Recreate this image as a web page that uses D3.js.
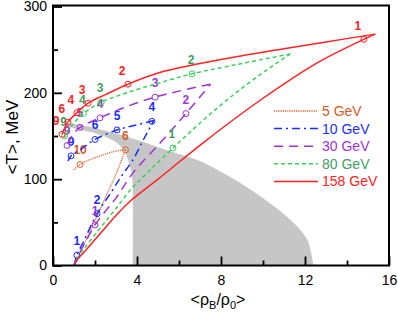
<!DOCTYPE html>
<html>
<head>
<meta charset="utf-8">
<script src="https://cdn.jsdelivr.net/npm/d3@7"></script>
<style>
  body { margin: 0; background: #fff; }
  text { font-family: "Liberation Sans", Arial, sans-serif; }
</style>
</head>
<body>
<script>
// trajectories <rho_B/rho_0>, <T> (MeV) ; rise = compression, fall = expansion
const rise5 = [[1.0,0],[1.5,26],[2.0,52],[2.5,79],[3.0,106],[3.45,134]];
const fall5 = [[3.45,134],[2.9,132],[2.38,128],[1.8,123],[1.29,117],[0.95,110]];
const marks5 = [[3.45,134,"6"],[1.29,117,"10"]];

const rise10 = [[1.0,0],[1.14,12],[1.5,30],[2.1,60],[2.8,86],[3.3,105],[3.8,122],[4.29,145],[4.8,168]];
const fall10 = [[4.8,168],[4.0,163],[3.05,157],[2.0,146],[1.4,136],[0.86,127],[0.72,121]];
const marks10 = [[1.14,12,"1"],[2.1,60,"2"],[4.71,167,"4"],[3.05,157,"5"],[2.0,146,"6"],[0.86,127,"9"]];

const rise30 = [[1.0,0],[1.2,12],[1.5,25],[2.0,47],[2.5,63],[3.0,78],[3.8,107],[5.1,142],[6.33,176],[7.5,210]];
const fall30 = [[7.5,210],[6.0,202],[4.86,195],[3.5,184],[2.24,171],[1.29,160],[0.9,150],[0.67,139]];
const marks30 = [[2.0,47,"1"],[6.33,176,"2"],[4.86,195,"3"],[2.24,171,"4"],[1.29,160,"5"],[0.67,139,"9"]];

const rise80 = [[1.0,0],[1.2,10],[1.5,20],[2.0,36],[2.5,51],[3.0,66],[3.7,88],[4.6,110],[5.71,136],[7.0,165],[8.3,192],[9.8,220],[11.3,245]];
const fall80 = [[11.3,245],[9.0,234],[6.62,222],[5.0,211],[3.5,200],[2.29,189],[1.45,176],[1.0,165],[0.7,156],[0.55,148]];
const marks80 = [[5.71,136,"1"],[6.62,222,"2"],[2.29,189,"3"],[1.45,176,"4"],[0.55,150,"9"]];

const rise158 = [[1.0,0],[1.2,8],[1.5,16],[2.0,30],[2.5,44],[3.0,58],[3.7,75],[5.0,100],[7.3,145],[9.9,192],[12.6,235],[14.8,262],[15.35,268]];
const fall158 = [[15.35,268],[13.0,259],[11.0,251],[9.0,243],[7.0,234],[5.0,223],[3.57,210],[2.5,198],[1.67,188],[1.14,177],[0.71,166],[0.43,152]];
const marks158 = [[14.8,262,"1"],[3.57,210,"2"],[1.67,188,"3"],[1.14,177,"4"],[0.71,166,"6"],[0.43,152,"9"]];

// shaded region boundary, traced counter-clockwise
const shadeLeft = [[3.8,0],[3.8,85],[3.78,100],[3.7,112],[3.52,126],[3.35,134],[3.05,142],[2.6,148],[1.9,154],[1.0,159],[0.6,164]];
const shadeTop = [[0.6,164],[1.5,162],[2.5,156],[3.5,149],[4.3,143],[5.5,133],[6.9,122],[8.4,103],[10.0,78],[11.3,53],[12.1,30],[12.4,0]];

const xMajor = [0, 4, 8, 12, 16], xMinor = [2, 6, 10, 14];
const yMajor = [0, 100, 200, 300], yMinor = [50, 150, 250];

const series = [
  {name: "5 GeV",   rise: rise5,   fall: fall5,   marks: marks5,   color: "#e0602a", text: "#d85a28", dash: "1.2,1",   w: 1.3, lab: [0,-10]},
  {name: "10 GeV",  rise: rise10,  fall: fall10,  marks: marks10,  color: "#1a2cff", text: "#1a2cff", dash: "8,4,2,4", w: 1.5, lab: [0,-10]},
  {name: "30 GeV",  rise: rise30,  fall: fall30,  marks: marks30,  color: "#a033d6", text: "#a033d6", dash: "9,6",     w: 1.5, lab: [0,-10]},
  {name: "80 GeV",  rise: rise80,  fall: fall80,  marks: marks80,  color: "#3ccf5a", text: "#3fa060", dash: "4,3",     w: 1.5, lab: [-1,-10]},
  {name: "158 GeV", rise: rise158, fall: fall158, marks: marks158, color: "#ff2222", text: "#ff2222", dash: null,      w: 1.5, lab: [-6,-9]}
];

const W = 398, H = 312;
const x = d3.scaleLinear().domain([0, 16]).range([53, 389]);
const y = d3.scaleLinear().domain([0, 300]).range([265.5, 6.5]);

const svg = d3.select("body").append("svg")
    .attr("width", W)
    .attr("height", H);

const line = d3.line()
    .x(d => x(d[0]))
    .y(d => y(d[1]))
    .curve(d3.curveCatmullRom.alpha(0.5));

// shaded region
svg.append("path")
    .attr("d", line(shadeLeft.concat(shadeTop.slice(1))) + "Z")
    .style("fill", "#c6c6c6")
    .style("stroke", "none");

// trajectories
series.forEach(s => {
    [s.rise, s.fall].forEach(branch => {
        svg.append("path")
            .attr("d", line(branch))
            .style("fill", "none")
            .style("stroke", s.color)
            .style("stroke-width", s.w)
            .style("stroke-dasharray", s.dash);
    });
    svg.selectAll(null)
        .data(s.marks)
        .enter().append("circle")
        .attr("cx", d => x(d[0]))
        .attr("cy", d => y(d[1]))
        .attr("r", 3)
        .style("fill", "none")
        .style("stroke", s.color)
        .style("stroke-width", 1);
    svg.selectAll(null)
        .data(s.marks)
        .enter().append("text")
        .attr("x", d => x(d[0]) + s.lab[0])
        .attr("y", d => y(d[1]) + s.lab[1])
        .attr("text-anchor", "middle")
        .style("font-size", "12px")
        .style("font-weight", "bold")
        .style("fill", s.text)
        .text(d => d[2]);
});

// frame
svg.append("rect")
    .attr("x", x(0)).attr("y", y(300) - 1)
    .attr("width", x(16) - x(0)).attr("height", y(0) - y(300) + 1)
    .style("fill", "none")
    .style("stroke", "#000")
    .style("stroke-width", 2);

// axes, ticks pointing inward
const gx = svg.append("g").attr("transform", "translate(0," + y(0) + ")");
gx.call(d3.axisBottom(x).tickValues(xMajor).tickSize(-9).tickPadding(10).tickFormat(d3.format("d")));
gx.append("g").call(d3.axisBottom(x).tickValues(xMinor).tickSize(-5).tickFormat(""));

const gy = svg.append("g").attr("transform", "translate(" + x(0) + ",0)");
gy.call(d3.axisLeft(y).tickValues(yMajor).tickSize(-9).tickPadding(6).tickFormat(d3.format("d")));
gy.append("g").call(d3.axisLeft(y).tickValues(yMinor).tickSize(-5).tickFormat(""));

svg.selectAll(".domain").remove();
svg.selectAll(".tick line").style("stroke", "#000").style("stroke-width", 1.8);
svg.selectAll(".tick text")
    .style("font-family", "Liberation Sans, Arial, sans-serif")
    .style("font-size", "14px")
    .style("fill", "#000");

// axis titles
svg.append("text")
    .attr("transform", "translate(18,137) rotate(-90)")
    .attr("text-anchor", "middle")
    .style("font-size", "17px")
    .text("<T>, MeV");

const xt = svg.append("text")
    .attr("x", 218).attr("y", 305)
    .attr("text-anchor", "middle")
    .style("font-size", "16px");
xt.append("tspan").text("<ρ");
xt.append("tspan").attr("dy", 4).style("font-size", "11px").text("B");
xt.append("tspan").attr("dy", -4).text("/ρ");
xt.append("tspan").attr("dy", 4).style("font-size", "11px").text("0");
xt.append("tspan").attr("dy", -4).text(">");

// legend
const leg = svg.selectAll(".legend")
    .data(series)
    .enter().append("g")
    .attr("class", "legend")
    .attr("transform", (d, i) => "translate(274," + (111 + i * 17.6) + ")");

leg.append("line")
    .attr("x1", 0).attr("x2", 44)
    .style("stroke", d => d.color)
    .style("stroke-width", d => d.w)
    .style("stroke-dasharray", d => d.dash);

leg.append("text")
    .attr("x", 48).attr("y", 5)
    .style("font-size", "14px")
    .style("fill", d => d.text)
    .text(d => d.name);
</script>
</body>
</html>
